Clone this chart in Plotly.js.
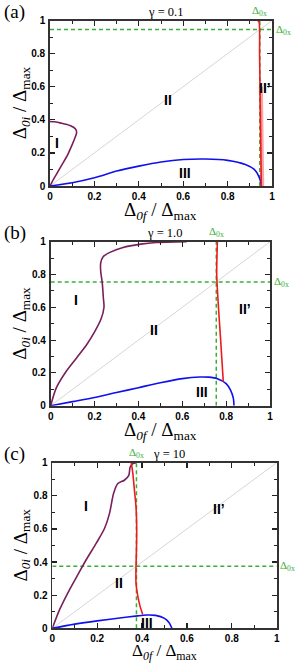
<!DOCTYPE html>
<html>
<head>
<meta charset="utf-8">
<script src="https://cdn.plot.ly/plotly-3.0.1.min.js"></script>
<style>html,body{margin:0;padding:0;background:#fff;}#chart{width:295px;height:663px;}</style>
</head>
<body>
<div id="chart"></div>
<script>
// ---------- data ----------
const panelTags = ['(a)', '(b)', '(c)'];
const gammaLabels = ['γ = 0.1', 'γ = 1.0', 'γ = 10'];
const delta0x = [0.945, 0.755, 0.375];
const tickVals = [0, 0.2, 0.4, 0.6, 0.8, 1];
const tickText = ['0', '0.2', '0.4', '0.6', '0.8', '1'];
const regionNames = ['I', 'II', 'III', 'II’'];

// panel (a) gamma = 0.1
const aPurpleX = [0, 0.02, 0.05, 0.08, 0.10, 0.115, 0.12, 0.115, 0.09, 0.05, 0.02, 0];
const aPurpleY = [0, 0.05, 0.12, 0.19, 0.25, 0.30, 0.325, 0.345, 0.365, 0.38, 0.388, 0.39];
const aBlueX = [0, 0.1, 0.2, 0.3, 0.4, 0.5, 0.6, 0.7, 0.8, 0.88, 0.92, 0.94, 0.95, 0.952];
const aBlueY = [0, 0.02, 0.05, 0.09, 0.12, 0.145, 0.16, 0.163, 0.155, 0.13, 0.10, 0.06, 0.02, 0];
const aRedX = [0.952, 0.950, 0.948, 0.946, 0.944, 0.942, 0.935];
const aRedY = [0, 0.2, 0.4, 0.6, 0.8, 0.99, 1.0];
const aPinkX = [0.956, 0.953, 0.950];
const aPinkY = [0, 0.3, 0.6];
const aRegionX = [0.03, 0.53, 0.61, 0.97];
const aRegionY = [0.26, 0.52, 0.08, 0.59];

// panel (b) gamma = 1.0
const bPurpleX = [0, 0.026, 0.071, 0.117, 0.163, 0.2, 0.23, 0.243, 0.24, 0.235, 0.228, 0.228, 0.24, 0.27, 0.33, 0.41, 0.48, 0.62];
const bPurpleY = [0, 0.11, 0.21, 0.29, 0.37, 0.45, 0.53, 0.60, 0.66, 0.75, 0.82, 0.87, 0.91, 0.935, 0.965, 0.985, 0.995, 1.0];
const bBlueX = [0, 0.1, 0.2, 0.3, 0.4, 0.5, 0.6, 0.68, 0.72, 0.76, 0.8, 0.82, 0.833, 0.836];
const bBlueY = [0, 0.025, 0.05, 0.08, 0.11, 0.14, 0.165, 0.175, 0.174, 0.165, 0.135, 0.095, 0.045, 0];
const bRedX = [0.787, 0.775, 0.765, 0.757, 0.76];
const bRedY = [0.146, 0.4, 0.6, 0.8, 1.0];
const bRegionX = [0.115, 0.47, 0.69, 0.886];
const bRegionY = [0.645, 0.46, 0.085, 0.59];

// panel (c) gamma = 10
const cPurpleX = [0, 0.033, 0.077, 0.114, 0.151, 0.196, 0.233, 0.255, 0.273, 0.292, 0.321, 0.341, 0.347, 0.359, 0.373];
const cPurpleY = [0, 0.114, 0.234, 0.324, 0.414, 0.514, 0.604, 0.694, 0.814, 0.874, 0.894, 0.924, 0.974, 0.994, 1.0];
const cBlueX = [0, 0.1, 0.2, 0.3, 0.38, 0.42, 0.46, 0.5, 0.52, 0.533];
const cBlueY = [0, 0.025, 0.045, 0.062, 0.075, 0.08, 0.078, 0.06, 0.035, 0];
const cRedX = [0.352, 0.359, 0.366, 0.373, 0.376, 0.375, 0.373, 0.373, 0.381, 0.391, 0.403];
const cRedY = [1.0, 0.934, 0.834, 0.734, 0.614, 0.474, 0.374, 0.274, 0.194, 0.134, 0.084];
const cRegionX = [0.15, 0.295, 0.42, 0.745];
const cRegionY = [0.74, 0.275, 0.03, 0.72];

// ---------- layout geometry (pixels) ----------
const W = 295, H = 663;
const boxes = [
  {l: 50, r: 272, t: 20.5, b: 186, xt: 25, fs: 19},
  {l: 50.7, r: 270, t: 241.7, b: 405.7, xt: 25, fs: 19},
  {l: 52.3, r: 276.7, t: 462.7, b: 628.3, xt: 23.5, fs: 17}
];
const panels = [
  {purpleX: aPurpleX, purpleY: aPurpleY, blueX: aBlueX, blueY: aBlueY, redX: aRedX, redY: aRedY, rx: aRegionX, ry: aRegionY},
  {purpleX: bPurpleX, purpleY: bPurpleY, blueX: bBlueX, blueY: bBlueY, redX: bRedX, redY: bRedY, rx: bRegionX, ry: bRegionY},
  {purpleX: cPurpleX, purpleY: cPurpleY, blueX: cBlueX, blueY: cBlueY, redX: cRedX, redY: cRedY, rx: cRegionX, ry: cRegionY}
];

const purple = '#7a1f5c', blue = '#1010ee', red = '#ee1b1b', green = '#3aae3a';
const traces = [];
const layout = {
  width: W, height: H, margin: {l: 0, r: 0, t: 0, b: 0},
  paper_bgcolor: '#fff', plot_bgcolor: '#fff', showlegend: false,
  annotations: [], shapes: []
};
const px2x = p => p / W;
const py2y = p => 1 - p / H;
const serif = 'Liberation Serif, Times New Roman, serif';
const sans = 'Liberation Sans, Arial, sans-serif';

panels.forEach((P, i) => {
  const n = i + 1;
  const xa = 'x' + (n === 1 ? '' : n), ya = 'y' + (n === 1 ? '' : n);
  const xk = 'xaxis' + (n === 1 ? '' : n), yk = 'yaxis' + (n === 1 ? '' : n);
  const B = boxes[i];
  const axisCommon = {
    range: [0, 1], tickvals: tickVals, ticktext: tickText,
    ticks: 'inside', ticklen: 5, tickwidth: 1.2, tickcolor: '#222',
    minor: {dtick: 0.1, tick0: 0, ticks: 'inside', ticklen: 3, tickwidth: 1, tickcolor: '#222'},
    showline: true, linecolor: '#333', linewidth: 1.8, mirror: 'allticks',
    showgrid: false, zeroline: false, fixedrange: true,
    tickfont: {family: sans, size: 10, color: '#000', weight: 'bold'}
  };
  layout[xk] = Object.assign({}, axisCommon, {domain: [px2x(B.l), px2x(B.r)], anchor: ya, ticklabelstandoff: 0});
  layout[yk] = Object.assign({}, axisCommon, {domain: [py2y(B.b), py2y(B.t)], anchor: xa, ticklabelstandoff: 1});

  // diagonal
  traces.push({x: [0, 1], y: [0, 1], xaxis: xa, yaxis: ya, mode: 'lines', line: {color: '#d6d6d6', width: 1}, hoverinfo: 'skip'});
  // green dashed delta_0x lines
  const d = delta0x[i];
  traces.push({x: [d, d], y: [0, 1], xaxis: xa, yaxis: ya, mode: 'lines', line: {color: green, width: 1.5, dash: '4px,3px'}, hoverinfo: 'skip'});
  traces.push({x: [0, 1], y: [d, d], xaxis: xa, yaxis: ya, mode: 'lines', line: {color: green, width: 1.5, dash: '4px,3px'}, hoverinfo: 'skip'});
  if (i === 0) {
    traces.push({x: aPinkX, y: aPinkY, xaxis: xa, yaxis: ya, mode: 'lines', line: {color: 'rgba(238,60,60,0.45)', width: 4}, hoverinfo: 'skip'});
  }
  traces.push({x: P.purpleX, y: P.purpleY, xaxis: xa, yaxis: ya, mode: 'lines', line: {color: purple, width: 1.6, shape: 'spline', smoothing: 0.8}, hoverinfo: 'skip'});
  traces.push({x: P.blueX, y: P.blueY, xaxis: xa, yaxis: ya, mode: 'lines', line: {color: blue, width: 1.6, shape: 'spline', smoothing: 0.8}, hoverinfo: 'skip'});
  traces.push({x: P.redX, y: P.redY, xaxis: xa, yaxis: ya, mode: 'lines', line: {color: red, width: 1.6, shape: 'spline', smoothing: 0.6}, hoverinfo: 'skip'});

  // region labels
  regionNames.forEach((name, k) => {
    layout.annotations.push({xref: xa, yref: ya, x: P.rx[k], y: P.ry[k], text: name, showarrow: false,
      font: {family: sans, size: 14, color: '#000', weight: 'bold'}});
  });

  // panel tag and gamma title
  layout.annotations.push({xref: 'paper', yref: 'paper', x: px2x(2), y: py2y(B.t - 9), xanchor: 'left', yanchor: 'middle',
    text: panelTags[i], showarrow: false, font: {family: serif, size: 19, color: '#000'}});
  layout.annotations.push({xref: 'paper', yref: 'paper', x: px2x(B.l + 0.52 * (B.r - B.l)), y: py2y(B.t - 9), xanchor: 'center', yanchor: 'middle',
    text: gammaLabels[i], showarrow: false, font: {family: serif, size: 12.5, color: '#000'}});
  // delta_0x labels (green)
  layout.annotations.push({xref: xa, yref: 'paper', x: d, y: py2y(B.t - 1), xanchor: 'center', yanchor: 'bottom',
    text: 'Δ<sub>0x</sub>', showarrow: false, font: {family: serif, size: 11, color: green}});
  layout.annotations.push({xref: 'paper', yref: ya, x: px2x(B.r + 1.5), y: d, xanchor: 'left', yanchor: 'middle',
    text: 'Δ<sub>0x</sub>', showarrow: false, font: {family: serif, size: 11, color: green}});
  // axis titles
  layout.annotations.push({xref: 'paper', yref: 'paper', x: px2x((B.l + B.r) / 2), y: py2y(B.b + B.xt), xanchor: 'center', yanchor: 'middle',
    text: 'Δ<sub><i>0f</i></sub> / Δ<sub>max</sub>', showarrow: false, font: {family: serif, size: B.fs, color: '#000'}});
  layout.annotations.push({xref: 'paper', yref: 'paper', x: px2x(21), y: py2y((B.t + B.b) / 2), xanchor: 'center', yanchor: 'middle', textangle: -90,
    text: 'Δ<sub><i>0i</i></sub> / Δ<sub>max</sub>', showarrow: false, font: {family: serif, size: 19, color: '#000'}});
});

Plotly.newPlot('chart', traces, layout, {staticPlot: true, displayModeBar: false});
</script>
</body>
</html>
